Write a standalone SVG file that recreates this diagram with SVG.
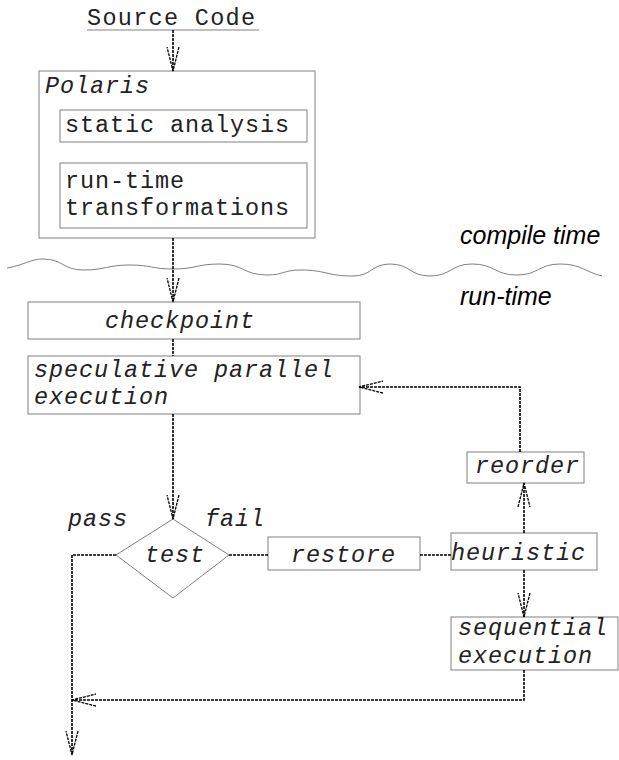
<svg xmlns="http://www.w3.org/2000/svg" width="619" height="760" viewBox="0 0 619 760">
<style>
.box{fill:#fff;stroke:#808080;stroke-width:1}
.mono{font-family:"Liberation Mono","Courier New",monospace;font-size:23.5px;letter-spacing:0.9px;fill:#222}
.it{font-style:italic}
.sans{font-family:"Liberation Sans",Arial,sans-serif;font-style:italic;font-size:25px;fill:#000}
.conn{fill:none;stroke:#000;stroke-width:1.6;stroke-dasharray:3 1}
.wave{fill:none;stroke:#808080;stroke-width:1}
</style>
<defs>
<marker id="arr" markerUnits="userSpaceOnUse" markerWidth="26" markerHeight="14" refX="24" refY="7" orient="auto" viewBox="0 0 26 14">
<path d="M0,1 L24,7 L0,13" fill="none" stroke="#000" stroke-width="1.3" stroke-dasharray="3 1"/>
</marker>
</defs>

<path id="wave" class="wave" d="M7,268 C25,265 30,259 43,259 C63,259 63,270 83,270 C106.5,270 106.5,265 130,265 C151.5,265 151.5,269 173,269 C196.5,269 196.5,264 220,264 C243.5,264 243.5,275 267,275 C283.5,275 283.5,270 300,270 C326.5,270 326.5,276 353,276 C371.5,276 371.5,264 390,264 C410,264 410,276 430,276 C451,276 451,264 472,264 C494.5,264 494.5,275 517,275 C538.5,275 538.5,264 560,264 C581,264 585,272 602,276"/>

<g id="source">
<text class="mono" x="87" y="25" style="letter-spacing:1.3px">Source Code</text>
<line x1="87" y1="30" x2="259" y2="30" stroke="#808080" stroke-width="1"/>
</g>

<g id="polaris">
<rect class="box" x="39" y="71" width="276" height="167"/>
<text class="mono it" x="45" y="93">Polaris</text>
</g>
<g id="static">
<rect class="box" x="60" y="110" width="247" height="32"/>
<text class="mono" x="65" y="132">static analysis</text>
</g>
<g id="transform">
<rect class="box" x="60" y="163" width="247" height="65"/>
<text class="mono" x="65" y="188">run-time</text>
<text class="mono" x="65" y="215">transformations</text>
</g>

<g id="labels">
<text class="sans" x="460" y="244">compile time</text>
<text class="sans" x="460" y="305">run-time</text>
</g>

<g id="checkpoint">
<rect class="box" x="28" y="302" width="332" height="37"/>
<text class="mono it" x="105" y="328">checkpoint</text>
</g>
<g id="speculative">
<rect class="box" x="28" y="356" width="332" height="58"/>
<text class="mono it" x="34" y="377">speculative parallel</text>
<text class="mono it" x="34" y="404">execution</text>
</g>
<g id="test">
<polygon class="box" points="173,519 229,555 173,598 116,555"/>
<text class="mono it" x="145" y="562">test</text>
<text class="mono it" x="68" y="526">pass</text>
<text class="mono it" x="205" y="526">fail</text>
</g>
<g id="restore">
<rect class="box" x="268" y="537" width="152" height="33"/>
<text class="mono it" x="291" y="562">restore</text>
</g>
<g id="heuristic">
<rect class="box" x="451" y="533" width="146" height="37"/>
<text class="mono it" x="451" y="560">heuristic</text>
</g>
<g id="reorder">
<rect class="box" x="467" y="452" width="117" height="31"/>
<text class="mono it" x="475" y="473">reorder</text>
</g>
<g id="sequential">
<rect class="box" x="451" y="617" width="167" height="53"/>
<text class="mono it" x="458" y="635">sequential</text>
<text class="mono it" x="458" y="663">execution</text>
</g>

<g id="connectors">
<path class="conn" d="M173,30 L173,71" marker-end="url(#arr)"/>
<path class="conn" d="M173,238 L173,302" marker-end="url(#arr)"/>
<path class="conn" d="M173,339 L173,356"/>
<path class="conn" d="M173,414 L173,519" marker-end="url(#arr)"/>
<path class="conn" d="M116,555 L72,555 L72,755" marker-end="url(#arr)"/>
<path class="conn" d="M229,555 L268,555"/>
<path class="conn" d="M420,555 L451,555"/>
<path class="conn" d="M524,533 L524,483" marker-end="url(#arr)"/>
<path class="conn" d="M520,452 L520,387 L359,387" marker-end="url(#arr)"/>
<path class="conn" d="M524,570 L524,617" marker-end="url(#arr)"/>
<path class="conn" d="M524,670 L524,700 L72,700" marker-end="url(#arr)"/>
</g>
</svg>
